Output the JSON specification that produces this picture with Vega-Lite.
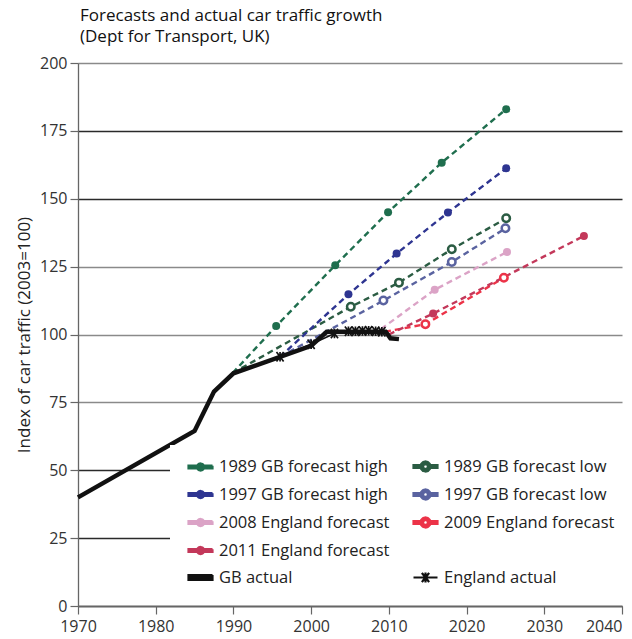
{
  "$schema": "https://vega.github.io/schema/vega-lite/v6.json",
  "width": 544,
  "height": 543,
  "autosize": {"type": "none"},
  "padding": {"left": 78, "top": 63, "right": 10, "bottom": 33},
  "background": "white",
  "config": {"view": {"stroke": null}, "font": "Open Sans"},
  "title": {
    "text": ["Forecasts and actual car traffic growth", "(Dept for Transport, UK)"],
    "anchor": "start",
    "frame": "group",
    "offset": 9,
    "dx": 2,
    "font": "Open Sans",
    "fontSize": 17,
    "fontWeight": "normal",
    "color": "#111111",
    "lineHeight": 21
  },
  "data": {
    "values": [
      {"series": "GB actual", "kind": "actual", "marker": "none", "year": 1970, "value": 40},
      {"series": "GB actual", "kind": "actual", "marker": "none", "year": 1985, "value": 64.5},
      {"series": "GB actual", "kind": "actual", "marker": "none", "year": 1987.5, "value": 79},
      {"series": "GB actual", "kind": "actual", "marker": "none", "year": 1990, "value": 85.7},
      {"series": "GB actual", "kind": "actual", "marker": "none", "year": 2000, "value": 95.8},
      {"series": "GB actual", "kind": "actual", "marker": "none", "year": 2002, "value": 101},
      {"series": "GB actual", "kind": "actual", "marker": "none", "year": 2009.6, "value": 101},
      {"series": "GB actual", "kind": "actual", "marker": "none", "year": 2010.2, "value": 98.6},
      {"series": "GB actual", "kind": "actual", "marker": "none", "year": 2011.3, "value": 98.3},
      {"series": "England actual", "kind": "actual", "marker": "star", "year": 1996, "value": 91.8},
      {"series": "England actual", "kind": "actual", "marker": "star", "year": 2000, "value": 96.4},
      {"series": "England actual", "kind": "actual", "marker": "star", "year": 2003, "value": 100.4},
      {"series": "England actual", "kind": "actual", "marker": "star", "year": 2004.8, "value": 101.2},
      {"series": "England actual", "kind": "actual", "marker": "star", "year": 2005.7, "value": 101.2},
      {"series": "England actual", "kind": "actual", "marker": "star", "year": 2006.6, "value": 101.3},
      {"series": "England actual", "kind": "actual", "marker": "star", "year": 2007.4, "value": 101.4},
      {"series": "England actual", "kind": "actual", "marker": "star", "year": 2008.3, "value": 101.2},
      {"series": "England actual", "kind": "actual", "marker": "star", "year": 2009.1, "value": 101},
      {"series": "1989 GB forecast high", "kind": "forecast", "marker": "none", "year": 1989.9, "value": 85.8},
      {"series": "1989 GB forecast high", "kind": "forecast", "marker": "filled", "year": 1995.5, "value": 103.1},
      {"series": "1989 GB forecast high", "kind": "forecast", "marker": "filled", "year": 2003.1, "value": 125.5},
      {"series": "1989 GB forecast high", "kind": "forecast", "marker": "filled", "year": 2009.9, "value": 145},
      {"series": "1989 GB forecast high", "kind": "forecast", "marker": "filled", "year": 2016.8, "value": 163.3},
      {"series": "1989 GB forecast high", "kind": "forecast", "marker": "filled", "year": 2025.1, "value": 183},
      {"series": "1989 GB forecast low", "kind": "forecast", "marker": "none", "year": 1989.9, "value": 85.8},
      {"series": "1989 GB forecast low", "kind": "forecast", "marker": "hollow", "year": 2005.1, "value": 110.2},
      {"series": "1989 GB forecast low", "kind": "forecast", "marker": "hollow", "year": 2011.3, "value": 119.1},
      {"series": "1989 GB forecast low", "kind": "forecast", "marker": "hollow", "year": 2018.1, "value": 131.4},
      {"series": "1989 GB forecast low", "kind": "forecast", "marker": "hollow", "year": 2025.1, "value": 142.8},
      {"series": "1997 GB forecast high", "kind": "forecast", "marker": "none", "year": 1996, "value": 91.8},
      {"series": "1997 GB forecast high", "kind": "forecast", "marker": "filled", "year": 2004.8, "value": 114.8},
      {"series": "1997 GB forecast high", "kind": "forecast", "marker": "filled", "year": 2011, "value": 129.8},
      {"series": "1997 GB forecast high", "kind": "forecast", "marker": "filled", "year": 2017.6, "value": 144.9},
      {"series": "1997 GB forecast high", "kind": "forecast", "marker": "filled", "year": 2025.1, "value": 161.2},
      {"series": "1997 GB forecast low", "kind": "forecast", "marker": "none", "year": 1996, "value": 91.8},
      {"series": "1997 GB forecast low", "kind": "forecast", "marker": "hollow", "year": 2009.3, "value": 112.5},
      {"series": "1997 GB forecast low", "kind": "forecast", "marker": "hollow", "year": 2018.1, "value": 126.7},
      {"series": "1997 GB forecast low", "kind": "forecast", "marker": "hollow", "year": 2025, "value": 139.1},
      {"series": "2008 England forecast", "kind": "forecast", "marker": "none", "year": 2009, "value": 102},
      {"series": "2008 England forecast", "kind": "forecast", "marker": "filled", "year": 2015.9, "value": 116.5},
      {"series": "2008 England forecast", "kind": "forecast", "marker": "filled", "year": 2025.2, "value": 130.4},
      {"series": "2009 England forecast", "kind": "forecast", "marker": "none", "year": 2009.5, "value": 101},
      {"series": "2009 England forecast", "kind": "forecast", "marker": "hollow", "year": 2014.7, "value": 103.8},
      {"series": "2009 England forecast", "kind": "forecast", "marker": "hollow", "year": 2024.8, "value": 120.9},
      {"series": "2011 England forecast", "kind": "forecast", "marker": "none", "year": 2010, "value": 100},
      {"series": "2011 England forecast", "kind": "forecast", "marker": "filled", "year": 2015.7, "value": 107.7},
      {"series": "2011 England forecast", "kind": "forecast", "marker": "filled", "year": 2035.1, "value": 136.3}
    ]
  },
  "encoding": {
    "x": {
      "field": "year", "type": "quantitative",
      "scale": {"domain": [1970, 2040], "nice": false, "zero": false},
      "axis": {
        "title": null, "values": [1970, 1980, 1990, 2000, 2010, 2020, 2030, 2040], "format": "d",
        "grid": false, "domainColor": "#666", "domainWidth": 1.3, "tickColor": "#666", "tickSize": 8, "tickWidth": 1.2,
        "labelFont": "Open Sans", "labelFontSize": 16, "labelColor": "#333", "labelPadding": 4, "labelFlush": false,
        "labelAlign": {"condition": {"test": "datum.value === 2040", "value": "right"}, "value": "center"}
      }
    },
    "y": {
      "field": "value", "type": "quantitative",
      "scale": {"domain": [0, 200], "nice": false},
      "axis": {
        "title": "Index of car traffic (2003=100)", "values": [0, 25, 50, 75, 100, 125, 150, 175, 200],
        "grid": true,
        "gridColor": {"condition": {"test": "datum.value === 150 || datum.value === 175 || datum.value <= 50", "value": "#2a2a2a"}, "value": "#8a8a8a"},
        "gridWidth": 1.3,
        "domainColor": "#666", "domainWidth": 1.3, "tickColor": "#666", "tickSize": 8, "tickWidth": 1.2,
        "labelFont": "Open Sans", "labelFontSize": 16, "labelColor": "#333", "labelPadding": 3,
        "titleFont": "Open Sans", "titleFontSize": 17, "titleFontWeight": "normal", "titleColor": "#222", "titlePadding": 6
      }
    },
    "color": {
      "field": "series", "type": "nominal",
      "scale": {
        "domain": ["1989 GB forecast high", "1997 GB forecast high", "2008 England forecast", "2011 England forecast", "GB actual", "1989 GB forecast low", "1997 GB forecast low", "2009 England forecast", " ", "England actual"],
        "range": ["#1f6e4e", "#2e3591", "#dba3c6", "#c3385a", "#111111", "#2b5c43", "#5a63a0", "#ec3348", "#ffffff", "#111111"]
      },
      "legend": {
        "title": null, "orient": "none", "legendX": 92, "legendY": 382, "columns": 2,
        "fillColor": "white", "padding": 8, "zindex": 1,
        "symbolSize": 576, "symbolOffset": 9, "labelOffset": 5, "columnPadding": 13, "rowPadding": 5,
        "labelFont": "Open Sans", "labelFontSize": 16.5, "labelColor": "#222", "labelLimit": 300,
        "encode": {
          "symbols": {
            "update": {
              "shape": {"signal": "datum.value === 'GB actual' ? 'M-1,-0.2L1,-0.2L1,0.2L-1,0.2Z' : datum.value === 'England actual' ? 'M-1,0L1,0M-0.3,-0.38L0.3,0.38M0.3,-0.38L-0.3,0.38M0,-0.42L0,0.42' : test(regexp('low|2009'), datum.value) ? 'M-1,-0.11L-0.4,-0.11L-0.4,0.11L-1,0.11Z M0.4,-0.11L1,-0.11L1,0.11L0.4,0.11Z M0.42,0L0.364,0.21L0.21,0.364L0,0.42L-0.21,0.364L-0.364,0.21L-0.42,0L-0.364,-0.21L-0.21,-0.364L0,-0.42L0.21,-0.364L0.364,-0.21Z M0.2,0L0.173,-0.1L0.1,-0.173L0,-0.2L-0.1,-0.173L-0.173,-0.1L-0.2,0L-0.173,0.1L-0.1,0.173L0,0.2L0.1,0.173L0.173,0.1Z' : 'M-1,-0.11L1,-0.11L1,0.11L-1,0.11Z M0.3,0L0.26,0.15L0.15,0.26L0,0.3L-0.15,0.26L-0.26,0.15L-0.3,0L-0.26,-0.15L-0.15,-0.26L0,-0.3L0.15,-0.26L0.26,-0.15Z'"},
              "fill": {"signal": "datum.value === ' ' || datum.value === 'England actual' ? 'transparent' : scale('color', datum.value)"},
              "stroke": {"signal": "datum.value === 'England actual' ? '#111111' : 'transparent'"},
              "strokeWidth": {"value": 2.2},
              "strokeDash": {"value": [1, 0]},
              "opacity": {"value": 1}
            }
          }
        }
      }
    }
  },
  "layer": [
    {
      "transform": [{"filter": "datum.kind === 'forecast'"}],
      "mark": {"type": "line", "strokeDash": [6, 4], "strokeWidth": 2.4}
    },
    {
      "transform": [{"filter": "datum.marker === 'filled'"}],
      "mark": {"type": "circle", "size": 64, "opacity": 1}
    },
    {
      "transform": [{"filter": "datum.marker === 'hollow'"}],
      "mark": {"type": "point", "shape": "circle", "filled": false, "fill": "white", "size": 56, "strokeWidth": 2.5, "opacity": 1}
    },
    {
      "transform": [{"filter": "datum.series === 'England actual'"}],
      "mark": {"type": "line", "strokeWidth": 1.6}
    },
    {
      "transform": [{"filter": "datum.series === 'GB actual'"}],
      "mark": {"type": "line", "strokeWidth": 4.5}
    },
    {
      "transform": [{"filter": "datum.marker === 'star'"}],
      "mark": {"type": "point", "shape": "M-0.75,-1L0.75,1M0.75,-1L-0.75,1M0,-1L0,1", "filled": false, "size": 90, "strokeWidth": 1.7, "opacity": 1}
    }
  ]
}
